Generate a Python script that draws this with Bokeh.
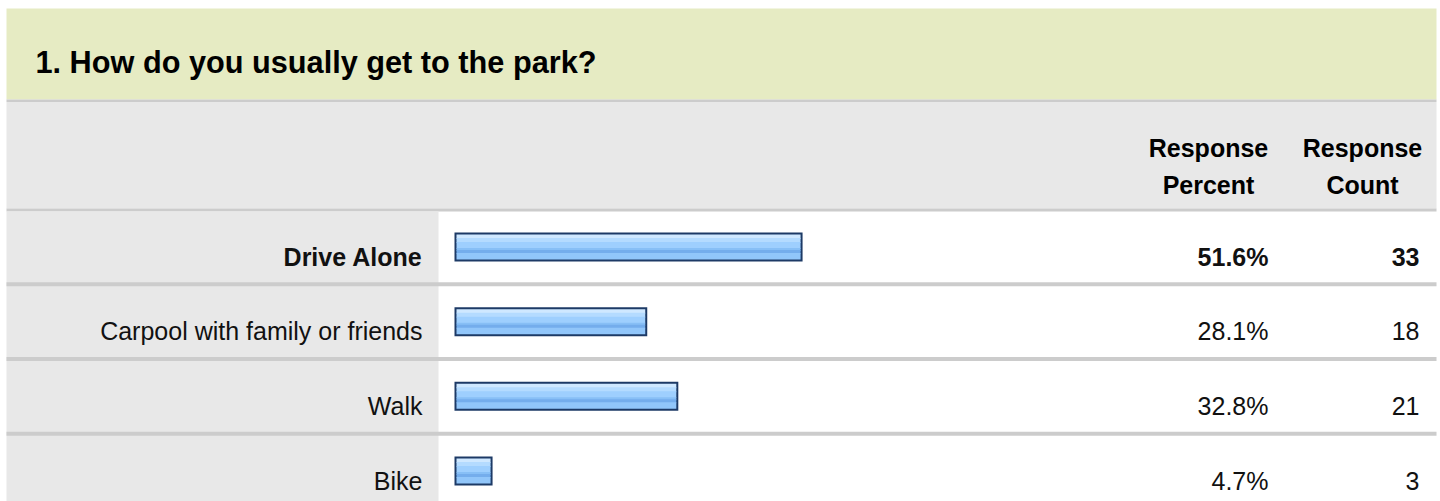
from bokeh.plotting import figure
from bokeh.models import ColumnDataSource, Range1d
from bokeh.core.properties import value
from bokeh.embed import file_html
from bokeh.resources import INLINE

# ---- data ----
title = "1. How do you usually get to the park?"
categories = ["Drive Alone", "Carpool with family or friends", "Walk", "Bike"]
percent = [51.6, 28.1, 32.8, 4.7]
count = [33, 18, 21, 3]
highlight = [True, False, False, False]
col_headers = [["Response", "Percent"], ["Response", "Count"]]

# ---- layout (picture pixels) ----
W, H = 1440, 501
X0 = 461.0          # x of 0 %
SCALE = 6.61        # px per percent
FONT = "Liberation Sans"


def px(x):
    return (x - X0) / SCALE


p = figure(width=W, height=H, output_backend="svg", toolbar_location=None,
           x_range=Range1d(px(0), px(W)), y_range=Range1d(H, 0),
           x_axis_location=None, y_axis_location=None, min_border=0)
p.grid.visible = False
p.outline_line_color = None
p.background_fill_color = "white"
p.border_fill_color = "white"

L, R = px(6), px(1436)
# header band
p.quad(left=L, right=R, top=8, bottom=99, fill_color="#e6ebc3", line_color=None)
p.quad(left=L, right=R, top=99, bottom=101.5, fill_color="#cccccc", line_color=None)
# column header row
p.quad(left=L, right=R, top=101.5, bottom=208, fill_color="#e8e8e8", line_color=None)
p.quad(left=L, right=R, top=208, bottom=211, fill_color="#cccccc", line_color=None)

ROW0 = 246.5
PITCH = 74.67
n = len(categories)
yc = [ROW0 + i * PITCH for i in range(n)]

# label cell
p.quad(left=L, right=px(438), top=211, bottom=520, fill_color="#e8e8e8", line_color=None)
# separators
sep = ColumnDataSource(dict(top=[y + PITCH / 2 - 2 for y in yc[:-1]],
                            bottom=[y + PITCH / 2 + 2 for y in yc[:-1]]))
p.quad(left=L, right=R, top="top", bottom="bottom", source=sep,
       fill_color="#cccccc", line_color=None)

# bars
bl = px(454)
outer = ColumnDataSource(dict(left=[bl] * n, right=percent,
                              top=[y - 14.5 for y in yc], bottom=[y + 14.5 for y in yc]))
p.quad(left="left", right="right", top="top", bottom="bottom", source=outer,
       fill_color="#1d3a66", line_color=None)
b2 = 2 / SCALE
bands = [(0.00, 0.14, "#cfe8ff"), (0.14, 0.30, "#b4dbff"), (0.30, 0.54, "#9ecffe"),
         (0.54, 0.62, "#87bff6"), (0.62, 0.74, "#74adec"), (0.74, 1.00, "#91c6fa")]
for k, (f0, f1, c) in enumerate(bands):
    ext = 0.8 if k < len(bands) - 1 else 0.0   # overlap next band to hide seams
    src = ColumnDataSource(dict(left=[bl + b2] * n, right=[v - b2 for v in percent],
                                top=[y - 12.5 + 25 * f0 for y in yc],
                                bottom=[y - 12.5 + 25 * f1 + ext for y in yc]))
    p.quad(left="left", right="right", top="top", bottom="bottom", source=src,
           fill_color=c, line_color=None)

# title
p.text(x=[px(35)], y=[62], text=[title], text_font=value(FONT), text_font_size="30.7px",
       text_font_style="bold", text_color="#000000", text_baseline="alphabetic")

# column headers
hx = [px(1208), px(1362)]
for cx, lines in zip(hx, col_headers):
    p.text(x=[cx, cx], y=[147, 184], text=lines, text_font=value(FONT),
           text_font_size="25px", text_font_style="bold", text_color="#000000",
           text_align="center", text_baseline="alphabetic")

# row texts
rows = ColumnDataSource(dict(
    y=[y + 9.5 for y in yc],
    label=categories,
    pct=[f"{v:.1f}%" for v in percent],
    cnt=[str(c) for c in count],
    style=["bold" if h else "normal" for h in highlight],
    lx=[px(422)] * n, ppx=[px(1268)] * n, cpx=[px(1419)] * n,
))
for xcol, tcol in (("lx", "label"), ("ppx", "pct"), ("cpx", "cnt")):
    p.text(x=xcol, y="y", text=tcol, source=rows, text_font=value(FONT),
           text_font_size="25px", text_font_style="style", text_color="#111111",
           text_align="right", text_baseline="alphabetic")

open("out.html", "w").write(file_html(p, INLINE))
